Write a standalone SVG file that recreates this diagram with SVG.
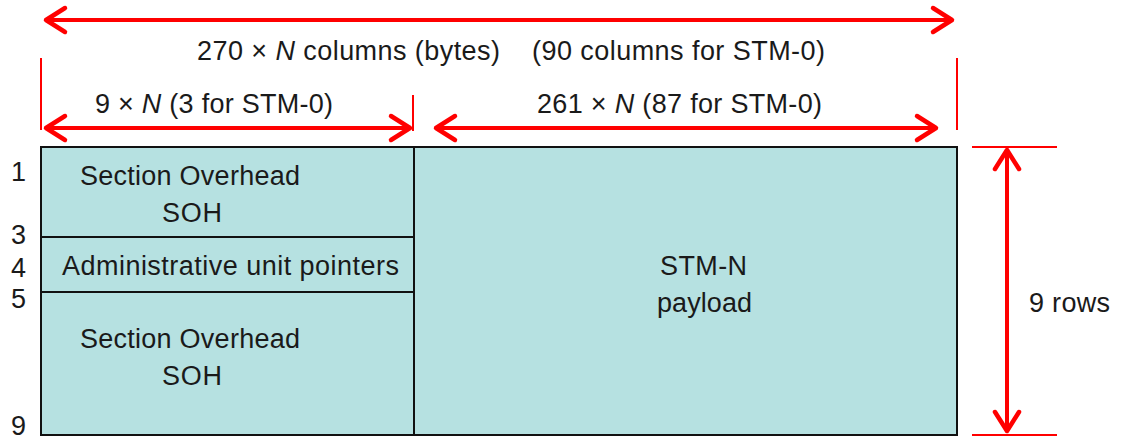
<svg xmlns="http://www.w3.org/2000/svg" width="1122" height="440" viewBox="0 0 1122 440">
  <style>
    text { font-family: "Liberation Sans", Arial, sans-serif; font-size: 27px; fill: #1a1a1a; }
    .cell { fill: #b6e1e1; stroke: #111; stroke-width: 2; }
    .dim { stroke: #ff0000; stroke-width: 4; fill: none; }
    .ext { stroke: #ff0000; stroke-width: 2; fill: none; }
  </style>
  <defs>
    <marker id="head" markerUnits="userSpaceOnUse" markerWidth="30" markerHeight="34"
            viewBox="-24 -16 30 34" refX="0" refY="0" orient="auto-start-reverse" overflow="visible">
      <path d="M -19 -12 L 0 0 L -19 12" fill="none" stroke="#ff0000" stroke-width="4.5"
            stroke-linejoin="round" stroke-linecap="round"/>
    </marker>
  </defs>

  <!-- frame cells -->
  <g id="soh-top">
    <rect class="cell" x="41" y="147" width="373" height="90"/>
    <text x="80" y="185" textLength="220">Section Overhead</text>
    <text x="162" y="222" textLength="60">SOH</text>
  </g>
  <g id="au-pointers">
    <rect class="cell" x="41" y="237" width="373" height="55"/>
    <text x="62" y="275" textLength="337">Administrative unit pointers</text>
  </g>
  <g id="soh-bottom">
    <rect class="cell" x="41" y="292" width="373" height="143"/>
    <text x="80" y="348" textLength="220">Section Overhead</text>
    <text x="162" y="385" textLength="60">SOH</text>
  </g>
  <g id="payload">
    <rect class="cell" x="414" y="147" width="543" height="288"/>
    <text x="660" y="275" textLength="87">STM-N</text>
    <text x="657" y="312" textLength="95">payload</text>
  </g>

  <!-- row numbers -->
  <g id="row-numbers">
    <text x="11" y="181">1</text>
    <text x="11" y="244">3</text>
    <text x="11" y="277">4</text>
    <text x="11" y="308">5</text>
    <text x="11" y="435">9</text>
  </g>

  <!-- dimension lines -->
  <g id="connectors">
    <line class="ext" x1="41" y1="58" x2="41" y2="130"/>
    <line class="ext" x1="957" y1="58" x2="957" y2="130"/>
    <line class="ext" x1="413" y1="95" x2="413" y2="131"/>
    <line class="ext" x1="972" y1="147" x2="1057" y2="147"/>
    <line class="ext" x1="972" y1="435" x2="1057" y2="435"/>

    <line class="dim" x1="46" y1="20" x2="952" y2="20" marker-start="url(#head)" marker-end="url(#head)"/>
    <line class="dim" x1="46" y1="128" x2="410" y2="128" marker-start="url(#head)" marker-end="url(#head)"/>
    <line class="dim" x1="436" y1="128" x2="936" y2="128" marker-start="url(#head)" marker-end="url(#head)"/>
    <line class="dim" x1="1007" y1="150" x2="1007" y2="431" marker-start="url(#head)" marker-end="url(#head)"/>
  </g>

  <!-- dimension labels -->
  <g id="labels">
    <text x="197" y="60" textLength="303">270 × <tspan font-style="italic">N</tspan> columns (bytes)</text>
    <text x="532" y="60" textLength="293">(90 columns for STM-0)</text>
    <text x="95" y="113" textLength="238">9 × <tspan font-style="italic">N</tspan> (3 for STM-0)</text>
    <text x="537" y="113" textLength="285">261 × <tspan font-style="italic">N</tspan> (87 for STM-0)</text>
    <text x="1029" y="312" textLength="81">9 rows</text>
  </g>
</svg>
